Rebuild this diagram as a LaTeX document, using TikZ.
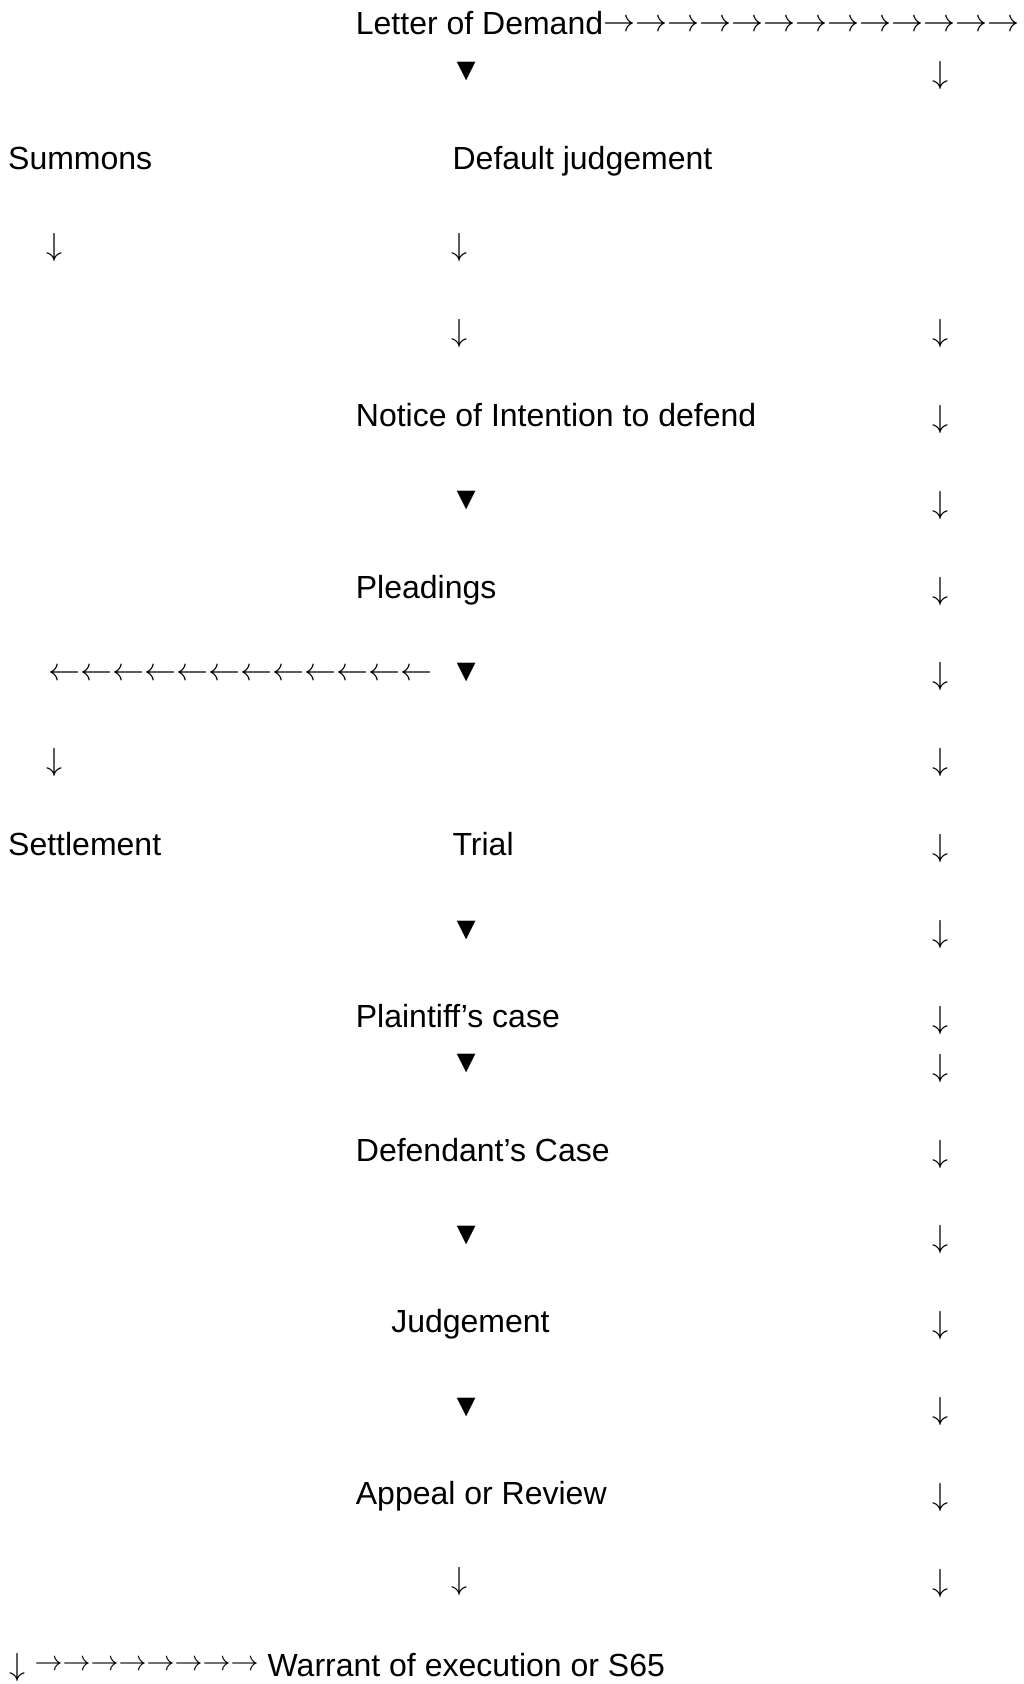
\RequirePackage{fix-cm}
\documentclass[tikz,border=0pt]{standalone}
\usepackage{fontspec}
\setmainfont{Liberation Sans}

\newcommand{\rarrows}[1]{\foreach \k in {1,...,#1}{$\rightarrow$}}
\newcommand{\larrows}[1]{\foreach \k in {1,...,#1}{$\leftarrow$}}

\begin{document}
\begin{tikzpicture}[x=1pt,y=-1pt,
  txt/.style={anchor=base west,inner sep=0pt,font=\fontsize{32}{38}\selectfont},
  arr/.style={anchor=center,inner sep=0pt,font=\fontsize{32}{38}\selectfont},
  row/.style={anchor=west,inner sep=0pt,font=\fontsize{32}{38}\selectfont},
  tri/.style={anchor=center,inner sep=0pt,font=\fontsize{32}{38}\selectfont}]
\useasboundingbox (0,0) rectangle (1024,1684);

% texts
\node[txt] (demand) at (355.7,34.9) {Letter of Demand};
\node[row] (demandrow) at (602.8,25.8) {\rarrows{13}};
\node[txt] (summons) at (8,169.2) {Summons};
\node[txt] (default) at (452.4,169.2) {Default judgement};
\node[txt] (notice) at (355.7,426.0) {Notice of Intention to defend};
\node[txt] (pleadings) at (355.7,598.0) {Pleadings};
\node[row] (leftrow) at (48.4,674.8) {\larrows{12}};
\node[txt] (settlement) at (8,855.8) {Settlement};
\node[txt] (trial) at (452.4,855.8) {Trial};
\node[txt] (plaintiff) at (355.7,1027.8) {Plaintiff’s case};
\node[txt] (defendant) at (355.7,1161.0) {Defendant’s Case};
\node[txt] (judgement) at (391.1,1332.9) {Judgement};
\node[txt] (appeal) at (355.7,1504.8) {Appeal or Review};
\node[arr] (wdown) at (17.2,1667.6) {$\downarrow$};
\node[row,font=\fontsize{28}{34}\selectfont] (wrow) at (34.4,1665.5) {\rarrows{8}};
\node[txt] (warrant) at (267.5,1676.8) {Warrant of execution or S65};

% triangles in the middle column
\foreach \y [count=\i] in {72.0,500.7,672.6,930.5,1063.8,1235.7,1407.6}
  \node[tri] (t\i) at (466.3,\y) {▼};

% down arrows, right column
\foreach \y [count=\i] in {75.2,333.1,419.1,505.0,591.0,676.9,762.9,848.9,934.8,1020.8,1068.1,1154.0,1239.9,1325.9,1411.9,1497.9,1583.8}
  \node[arr] (r\i) at (940.2,\y) {$\downarrow$};

% down arrows, middle column
\foreach \y [count=\i] in {247.1,333.1,1581.7}
  \node[arr] (m\i) at (459.9,\y) {$\downarrow$};

% down arrows, left column
\foreach \y [count=\i] in {247.1,762.9}
  \node[arr] (l\i) at (54.8,\y) {$\downarrow$};

\end{tikzpicture}
\end{document}
